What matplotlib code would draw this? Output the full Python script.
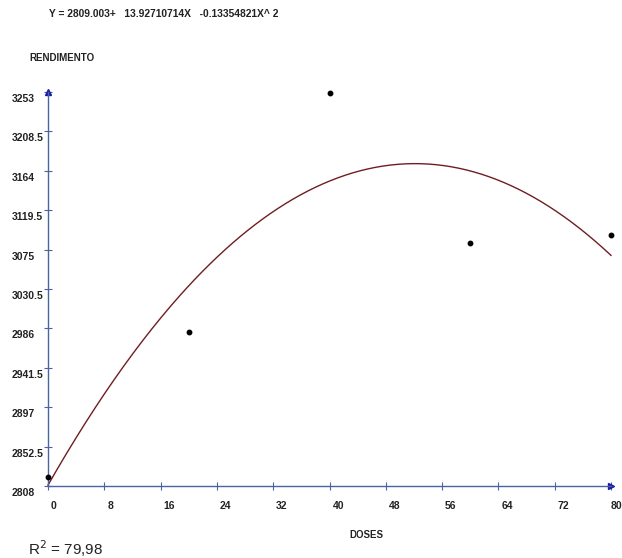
import numpy as np
import matplotlib
matplotlib.use("Agg")
import matplotlib.pyplot as plt
from matplotlib.transforms import offset_copy

plt.rcParams['font.family'] = ['Liberation Sans', 'DejaVu Sans']

# observed points
doses = [0, 20, 40, 60, 80]
rendimento = [2818, 2982, 3252, 3083, 3092]

# regression coefficients from the title
b0, b1, b2 = 2809.003, 13.92710714, -0.13354821

xticks = [0, 8, 16, 24, 32, 40, 48, 56, 64, 72, 80]
yticks = [2808, 2852.5, 2897, 2941.5, 2986, 3030.5, 3075, 3119.5, 3164, 3208.5, 3253]
ytick_labels = ["2808", "2852.5", "2897", "2941.5", "2986", "3030.5",
                "3075", "3119.5", "3164", "3208.5", "3253"]

axis_col = "#4a64a0"
arrow_col = "#1a1aa8"
curve_col = "#6e1e22"

W, H = 622, 558
fig = plt.figure(figsize=(W / 100, H / 100), dpi=100)
ax = fig.add_axes([48 / W, (H - 486) / H, 563 / W, 394 / H])
ax.set_xlim(0, 80)
ax.set_ylim(2808, 3253)

for s in ["top", "right"]:
    ax.spines[s].set_visible(False)
for s in ["left", "bottom"]:
    ax.spines[s].set_color(axis_col)
    ax.spines[s].set_linewidth(1.0)

ax.set_xticks(xticks)
ax.set_yticks(yticks)
ax.tick_params(direction="inout", length=6, width=0.8, color=axis_col,
               labelleft=False, labelbottom=False)

# arrow heads
ax.plot(1, 0, ">", color=arrow_col, ms=5, transform=ax.transAxes, clip_on=False)
ax.plot(0, 1, "^", color=arrow_col, ms=5, transform=ax.transAxes, clip_on=False)

# fitted curve
xs = np.linspace(0, 80, 300)
ax.plot(xs, b0 + b1 * xs + b2 * xs ** 2, color=curve_col, lw=1.0, clip_on=False)

# data points
ax.plot(doses, rendimento, "o", color="black", ms=3.2, clip_on=False, zorder=5)

# tick labels
for v in xticks:
    dx = 3 if v < 80 else 0  # last label would run off the edge
    tx = offset_copy(ax.transData, fig, x=dx, y=-20, units="dots")
    ax.text(v, 2808, str(v), transform=tx, ha="left", va="center",
            fontsize=7.5, fontweight="bold", color="#222222", clip_on=False)

ty = offset_copy(ax.transData, fig, x=0, y=-7, units="dots")
for v, lab in zip(yticks, ytick_labels):
    ax.text(-36 / 563 * 80, v, lab, transform=ty, ha="left", va="center",
            fontsize=7.5, fontweight="bold", color="#222222", clip_on=False)

fig.text(49 / W, 1 - 14 / H, "Y = 2809.003+   13.92710714X   -0.13354821X^ 2",
         ha="left", va="center", fontsize=7.4, fontweight="bold", color="#222222")
fig.text(29 / W, 1 - 58 / H, "RENDIMENTO", ha="left", va="center",
         fontsize=7, fontweight="bold", color="#222222")
fig.text(366 / W, 1 - 535 / H, "DOSES", ha="center", va="center",
         fontsize=7, fontweight="bold", color="#222222")
fig.text(28 / W, 1 - 549 / H, "R$^2$ = 79,98", ha="left", va="center",
         fontsize=11, color="#222222")

fig.savefig("out.png", dpi=100)
